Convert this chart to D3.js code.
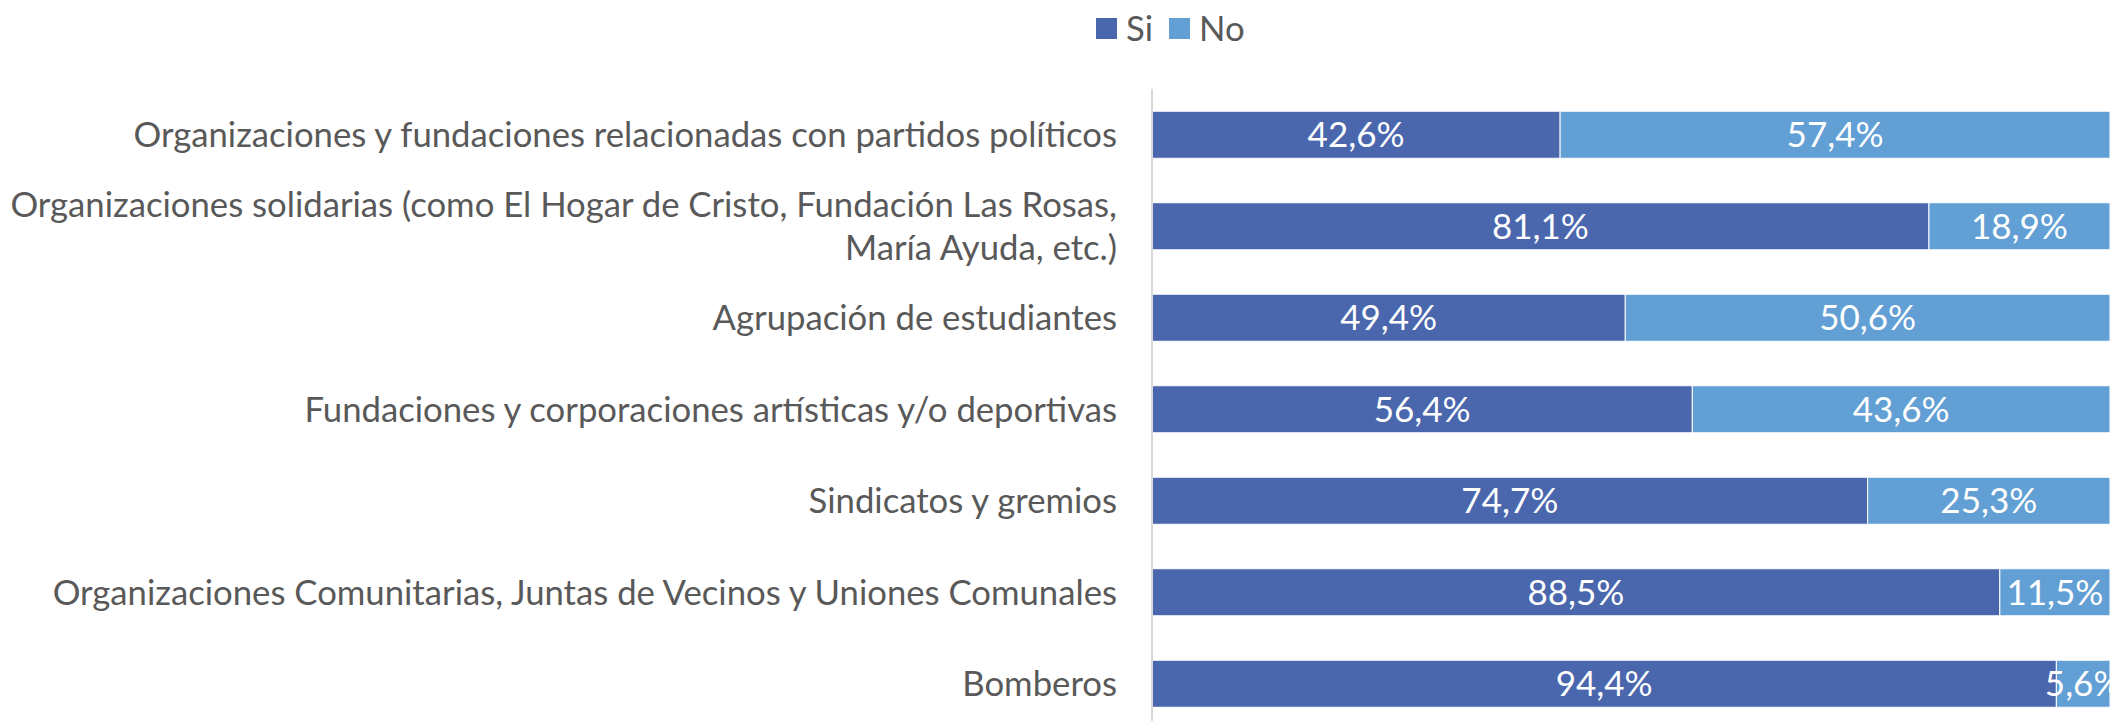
<!DOCTYPE html>
<html>
<head>
<meta charset="utf-8">
<script src="https://cdn.jsdelivr.net/npm/d3@7"></script>
<style>
  body { margin: 0; background: #fff; }
  svg { display: block; font-family: Lato, "Open Sans", sans-serif; }
</style>
</head>
<body>
<svg id="chart" width="2116" height="721"></svg>
<script>
const categories = [
    "Organizaciones y fundaciones relacionadas con partidos políticos",
    "Organizaciones solidarias (como El Hogar de Cristo, Fundación Las Rosas, María Ayuda, etc.)",
    "Agrupación de estudiantes",
    "Fundaciones y corporaciones artísticas y/o deportivas",
    "Sindicatos y gremios",
    "Organizaciones Comunitarias, Juntas de Vecinos y Uniones Comunales",
    "Bomberos"
];
const siValues = [42.6, 81.1, 49.4, 56.4, 74.7, 88.5, 94.4];
const noValues = [57.4, 18.9, 50.6, 43.6, 25.3, 11.5, 5.6];
const seriesNames = ["Si", "No"];
const seriesColors = ["#4a67ae", "#629fd4"];

const width = 2116, height = 721;
const plotLeft = 1152, plotRight = 2110, plotTop = 89, plotBottom = 729.5;
const textColor = "#595959";
const labelSize = 34.7, valueSize = 35;

const svg = d3.select("#chart");

const x = d3.scaleLinear().domain([0, 100]).range([plotLeft, plotRight]);
const y = d3.scaleBand()
    .domain(categories)
    .range([plotTop, plotBottom])
    .paddingInner(0.486)
    .paddingOuter(0.243);

const rows = categories.map((c, i) => ({ cat: c, si: siValues[i], no: noValues[i] }));
const stack = d3.stack().keys(["si", "no"])(rows);

// bars
stack.forEach((layer, k) => {
    svg.append("g")
        .selectAll("rect")
        .data(layer)
        .join("rect")
        .attr("x", d => x(d[0]))
        .attr("y", d => y(d.data.cat))
        .attr("width", d => x(d[1]) - x(d[0]))
        .attr("height", y.bandwidth())
        .attr("fill", seriesColors[k])
        .attr("stroke", "#ffffff")
        .attr("stroke-width", 1);
});

// value labels
const fmt = v => v.toFixed(1).replace(".", ",") + "%";
stack.forEach(layer => {
    svg.append("g")
        .selectAll("text")
        .data(layer)
        .join("text")
        .attr("x", d => (x(d[0]) + x(d[1])) / 2)
        .attr("y", d => y(d.data.cat) + y.bandwidth() / 2)
        .attr("dy", "0.36em")
        .attr("text-anchor", "middle")
        .attr("fill", "#ffffff")
        .attr("font-size", valueSize)
        .text(d => fmt(d[1] - d[0]));
});

// axis line
svg.append("line")
    .attr("x1", plotLeft).attr("x2", plotLeft)
    .attr("y1", plotTop).attr("y2", height)
    .attr("stroke", "#d9d9d9")
    .attr("stroke-width", 2);

// category labels with wrapping
const maxLabelWidth = 1125;
const labelG = svg.append("g");
categories.forEach(cat => {
    const t = labelG.append("text")
        .attr("text-anchor", "end")
        .attr("fill", textColor)
        .attr("font-size", labelSize);
    const words = cat.split(" ");
    let lines = [], line = [];
    const probe = t.append("tspan");
    words.forEach(w => {
        const test = line.concat(w).join(" ");
        probe.text(test);
        if (probe.node().getComputedTextLength() > maxLabelWidth && line.length) {
            lines.push(line.join(" "));
            line = [w];
        } else {
            line.push(w);
        }
    });
    lines.push(line.join(" "));
    probe.remove();
    const lh = 43;
    const cy = y(cat) + y.bandwidth() / 2;
    lines.forEach((l, i) => {
        t.append("tspan")
            .attr("x", plotLeft - 35)
            .attr("y", cy + (i - (lines.length - 1) / 2) * lh)
            .attr("dy", "0.36em")
            .text(l);
    });
});

// legend
const legend = svg.append("g").attr("transform", "translate(1096,18)");
let lx = 0;
seriesNames.forEach((name, i) => {
    const g = legend.append("g").attr("transform", `translate(${lx},0)`);
    g.append("rect").attr("width", 21).attr("height", 21).attr("fill", seriesColors[i]);
    const t = g.append("text")
        .attr("x", 30)
        .attr("y", 10.5)
        .attr("dy", "0.36em")
        .attr("fill", textColor)
        .attr("font-size", labelSize)
        .text(name);
    lx += 30 + t.node().getComputedTextLength() + 16;
});
</script>
</body>
</html>
